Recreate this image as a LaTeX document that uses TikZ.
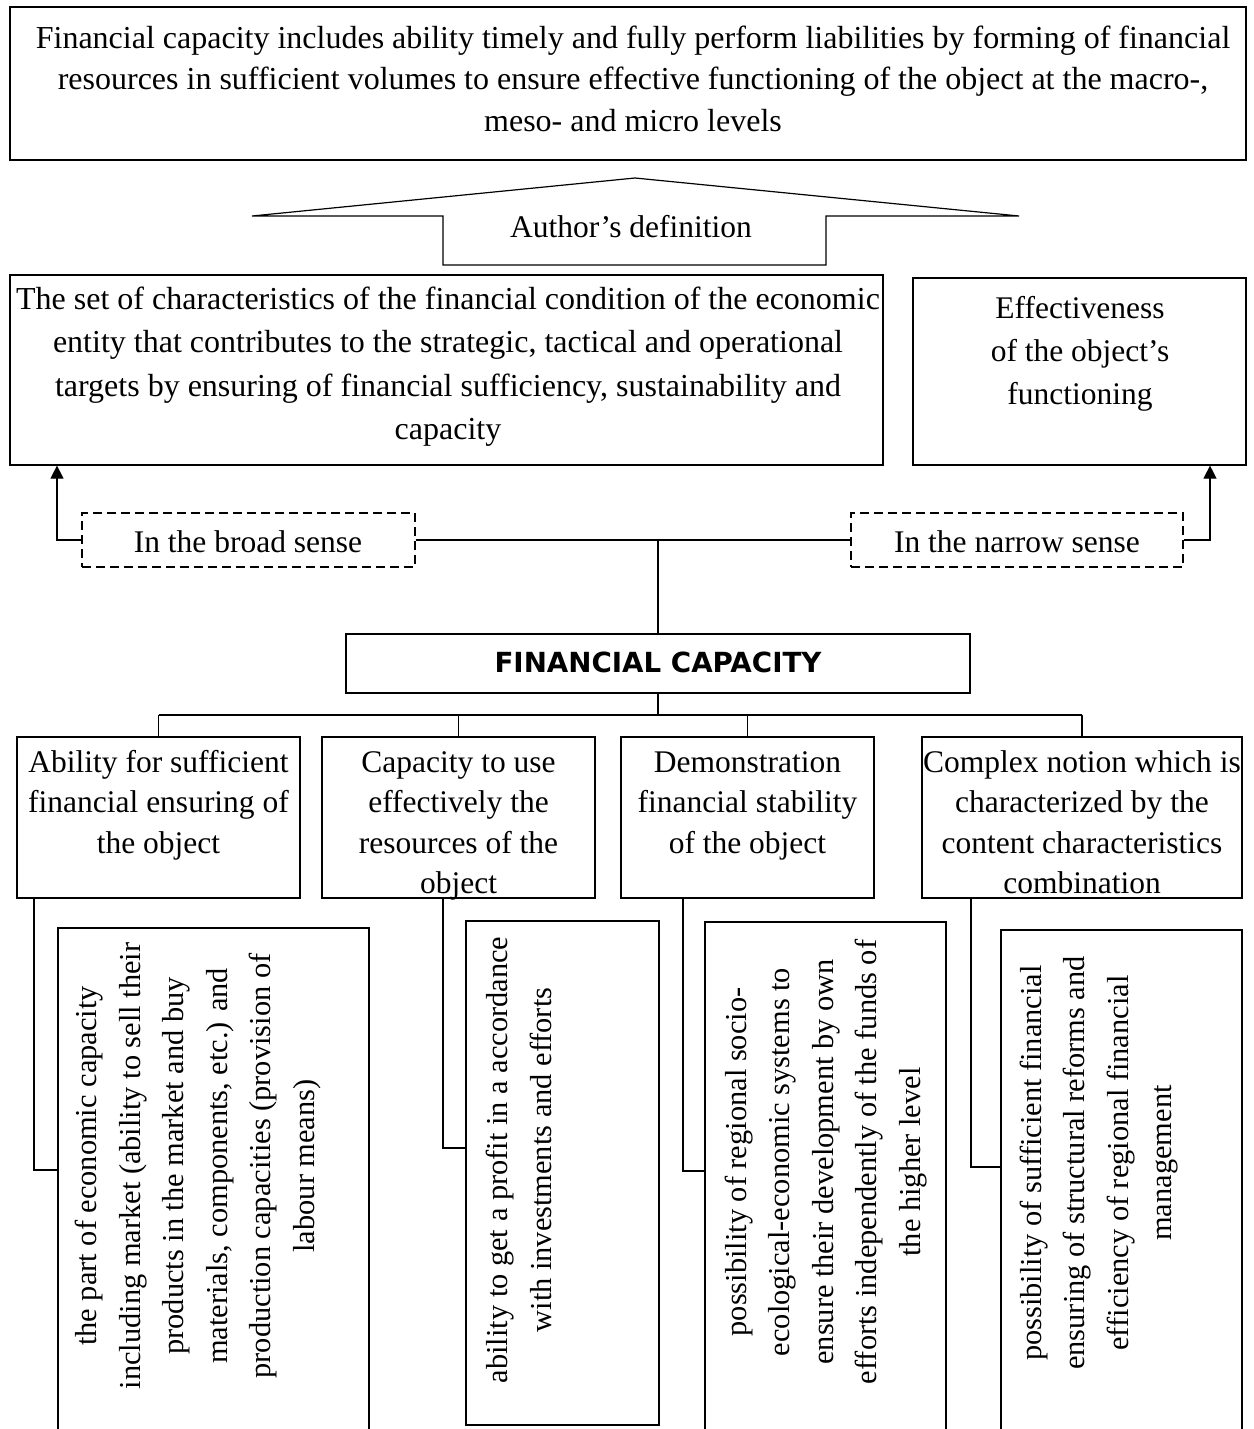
\documentclass[tikz,border=0pt]{standalone}
\usepackage{fontspec}
\setmainfont{Liberation Serif}
\newfontfamily\fcfont{DejaVu Sans}
\usetikzlibrary{arrows.meta}
\begin{document}
\begin{tikzpicture}[x=1pt,y=-1pt,
  box/.style={draw, line width=1.2pt, inner sep=0pt},
  dbox/.style={draw, dash pattern=on 9pt off 5pt, line width=1.1pt, inner sep=0pt},
  txt/.style={align=center, inner sep=0pt, anchor=base, font=\fontsize{31.5}{42}\selectfont},
  rtxt/.style={align=center, inner sep=0pt, rotate=90, font=\fontsize{30.4}{43.5}\selectfont},
  conn/.style={line width=1.2pt},
  arr/.style={line width=1.2pt, -{Triangle[length=13pt,width=13pt]}},
]
\useasboundingbox (0,0) rectangle (1253,1429);

% top definition box (text anchored at the baseline of its last line)
\node[box, minimum width=1236pt, minimum height=153pt] (top) at (628,83.5) {};
\node[txt, font=\fontsize{32}{41.5}\selectfont] (toptxt) at (633,131)
 {Financial capacity includes ability timely and fully perform liabilities by forming of financial\\
  resources in sufficient volumes to ensure effective functioning of the object at the macro-,\\
  meso- and micro levels};

% author's definition arrow
\draw[conn, line join=miter] (252,216) -- (635,178) -- (1019,216) -- (826,216) -- (826,265)
  -- (443,265) -- (443,216) -- cycle;
\node[txt] (auth) at (631,237.5) {Author’s definition};

% broad / narrow boxes
\node[box, minimum width=873pt, minimum height=190pt] (big) at (446.5,370) {};
\node[txt, font=\fontsize{32}{43.5}\selectfont] (bigtxt) at (448,439.5)
 {The set of characteristics of the financial condition of the economic\\
  entity that contributes to the strategic, tactical and operational\\
  targets by ensuring of financial sufficiency, sustainability and\\
  capacity};
\node[box, minimum width=333pt, minimum height=187pt] (eff) at (1079.5,371.5) {};
\node[txt, font=\fontsize{31.5}{43}\selectfont] (efftxt) at (1080,404)
 {Effectiveness\\ of the object’s\\ functioning};

\node[dbox, minimum width=333pt, minimum height=54pt] (broad) at (248.5,540) {};
\node[txt] (broadtxt) at (248,552) {In the broad sense};
\node[dbox, minimum width=332pt, minimum height=54pt] (narrow) at (1017,540) {};
\node[txt] (narrowtxt) at (1017,552) {In the narrow sense};

\coordinate (aL) at (57,540);
\coordinate (aR) at (1210,540);
\draw[arr] (broad.west) -| (big.south -| aL);
\draw[arr] (narrow.east) -| (eff.south -| aR);
\draw[conn] (broad.east) -- (narrow.west);

% financial capacity
\node[box, minimum width=624pt, minimum height=59pt] (fc) at (658,663.5) {};
\node[anchor=base, inner sep=0pt, font=\fcfont\bfseries\fontsize{27.7}{30}\selectfont] (fctxt) at (658,672.5) {FINANCIAL CAPACITY};
\draw[conn] (fc.north) -- (fc.north |- broad.east);

% level boxes
\node[box, minimum width=283pt, minimum height=161pt] (L1) at (158.5,817.5) {};
\node[box, minimum width=273pt, minimum height=161pt] (L2) at (458.5,817.5) {};
\node[box, minimum width=253pt, minimum height=161pt] (L3) at (747.5,817.5) {};
\node[box, minimum width=320pt, minimum height=161pt] (L4) at (1082,817.5) {};
\tikzset{ltxt/.style={txt, font=\fontsize{31.5}{40.5}\selectfont}}
\node[ltxt] (L1t) at (158.5,853) {Ability for sufficient\\ financial ensuring of\\ the object};
\node[ltxt] (L2t) at (458.5,893.5) {Capacity to use\\ effectively the\\ resources of the\\ object};
\node[ltxt] (L3t) at (747.5,853) {Demonstration\\ financial stability\\ of the object};
\node[ltxt] (L4t) at (1082,893.5) {Complex notion which is\\ characterized by the\\ content characteristics\\ combination};

\coordinate (bus) at (0,715);
\draw[conn] (fc.south) -- (fc.south |- bus);
\draw[conn] (L1.north |- bus) -- (L4.north |- bus);
\foreach \n in {L1,L2,L3,L4} { \draw[conn] (\n.north) -- (\n.north |- bus); }

% bottom boxes
\node[box, minimum width=311pt, minimum height=517pt] (A) at (213.5,1186.5) {};
\node[box, minimum width=193pt, minimum height=504pt] (B) at (562.5,1173) {};
\node[box, minimum width=241pt, minimum height=523pt] (C) at (825.5,1183.5) {};
\node[box, minimum width=241pt, minimum height=515pt] (D) at (1121.5,1187.5) {};

\node[rtxt] (At) at (198,1166)
 {the part of economic capacity\\
  including market (ability to sell their\\
  products in the market and buy\\
  materials, components, etc.) and\\
  production capacities (provision of\\
  labour means)};
\node[rtxt] (Bt) at (519,1160)
 {ability to get a profit in a accordance\\ with investments and efforts};
\node[rtxt] (Ct) at (826,1162)
 {possibility of regional socio-\\
  ecological-economic systems to\\
  ensure their development by own\\
  efforts independently of the funds of\\
  the higher level};
\node[rtxt] (Dt) at (1099,1163)
 {possibility of sufficient financial\\
  ensuring of structural reforms and\\
  efficiency of regional financial\\
  management};

\coordinate (cA) at (34,1170);
\coordinate (cB) at (443,1148);
\coordinate (cC) at (683,1171);
\coordinate (cD) at (971,1167);
\draw[conn] (L1.south -| cA) |- (A.west |- cA);
\draw[conn] (L2.south -| cB) |- (B.west |- cB);
\draw[conn] (L3.south -| cC) |- (C.west |- cC);
\draw[conn] (L4.south -| cD) |- (D.west |- cD);
\end{tikzpicture}
\end{document}
